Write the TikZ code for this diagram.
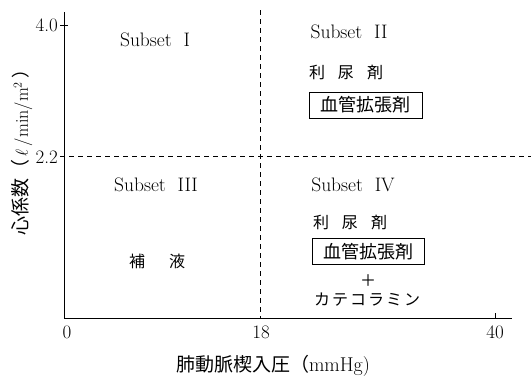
\documentclass[tikz,border=0pt]{standalone}
\usepackage{fontspec}
\newfontfamily\jp{Noto Sans CJK JP}
\begin{document}
\begin{tikzpicture}[x=1pt,y=-1pt,
  axis/.style={line width=0.8pt},
  dashline/.style={line width=0.7pt,dash pattern=on 5pt off 4pt},
  num/.style={font=\fontsize{19}{21}\selectfont,inner sep=0pt},
  subset/.style={font=\fontsize{19.5}{21}\selectfont,inner sep=0pt},
  drug/.style={font=\jp\fontsize{16}{18}\selectfont,inner sep=0pt},
  drugbox/.style={draw,line width=0.7pt,font=\jp\fontsize{18}{20}\selectfont,inner sep=0pt,minimum height=26pt},
  title/.style={font=\jp\fontsize{19}{21}\selectfont,inner sep=0pt}]
\useasboundingbox (0,0) rectangle (531,378);
% axes
\coordinate (o) at (64,318);
\coordinate (ytop) at (64,12);
\coordinate (xend) at (512,318);
\draw[axis] (ytop) -- (o) -- (xend);
\draw[axis] (60,25) -- (68,25);
\draw[axis] (495,313) -- (495,318);
% dashed thresholds
\coordinate (h1) at (60,156);
\coordinate (h2) at (531,156);
\coordinate (v1) at (260,10);
\coordinate (v2) at (260,318);
\draw[dashline] (h1) -- (h2);
\draw[dashline] (v1) -- (v2);
% tick labels
\node[num,anchor=east] (t40) at (58,25) {4.0};
\node[num,anchor=east] (t22) at (58,157) {2.2};
\node[num] (x0) at (67,332) {0};
\node[num] (x18) at (261,332) {18};
\node[num] (x40) at (495,332) {40};
% axis titles
\node[title] (xt) at (273,366) {肺動脈楔入圧（\fontsize{20}{22}\selectfont\rmfamily mmHg)};
\node[title,rotate=90] (yt) at (22,148) {心係数（\,\rmfamily\fontsize{18}{20}\selectfont$\ell$\,/min/m$^2$\,\jp）};
% quadrants
\node[subset] (s1) at (155,40) {Subset\ \ I};
\node[subset] (s2) at (349,32) {Subset\ \ II};
\node[drug] (d2) at (346,73) {利\hspace{13pt}尿\hspace{13pt}剤};
\node[drugbox,minimum width=113pt] (b2) at (365.5,105) {血管拡張剤};
\node[subset] (s3) at (156,185) {Subset\ \ III};
\node[subset] (s4) at (353,185) {Subset\ \ IV};
\node[drug] (d4) at (350,223) {利\hspace{13pt}尿\hspace{13pt}剤};
\node[drugbox,minimum width=112pt] (b4) at (368,251.5) {血管拡張剤};
\node[drug] (plus) at (368,281) {＋};
\node[drug] (cat) at (367,300) {カ\hspace{2pt}テ\hspace{2pt}コ\hspace{2pt}ラ\hspace{2pt}ミ\hspace{2pt}ン};
\node[drug] (ho) at (157,261) {補\hspace{24pt}液};
\end{tikzpicture}
\end{document}
